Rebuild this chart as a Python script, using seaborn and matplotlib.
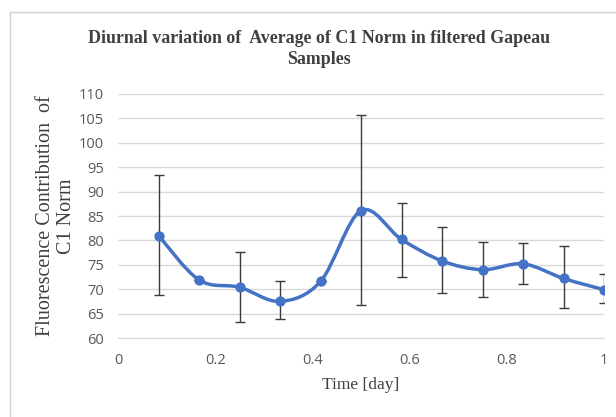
import numpy as np
import pandas as pd
import seaborn as sns
import matplotlib.pyplot as plt
from matplotlib.path import Path
from matplotlib.patches import PathPatch, Rectangle

# data
time_day = [1/12, 2/12, 3/12, 4/12, 5/12, 6/12, 7/12, 8/12, 9/12, 10/12, 11/12, 12/12]
c1_norm = [81.0, 71.9, 70.4, 67.5, 71.6, 86.1, 80.2, 75.8, 74.0, 75.2, 72.2, 69.9]
err_low = [68.8, 71.9, 63.3, 63.8, 71.6, 66.7, 72.6, 69.3, 68.5, 71.1, 66.1, 67.1]
err_high = [93.5, 71.9, 77.6, 71.7, 71.6, 105.7, 87.6, 82.7, 79.7, 79.4, 78.9, 73.2]
x_ticks = [0, 0.2, 0.4, 0.6, 0.8, 1.0]
x_tick_labels = ['0', '0.2', '0.4', '0.6', '0.8', '1']
y_ticks = list(range(60, 111, 5))

LINE_COLOR = '#4472C4'
TEXT_COLOR = '#595959'

df = pd.DataFrame({'time': time_day, 'c1': c1_norm, 'lo': err_low, 'hi': err_high})

sns.set_style('white')
fig = plt.figure(figsize=(6.16, 4.17), dpi=100)
ax = fig.add_axes([0.1916, 0.1894, 0.789, 0.5852])

# chart frame (light border like the spreadsheet chart area)
fig.patches.append(Rectangle((10/616, -0.1), 1.2, 1 - 12/417 + 0.1, transform=fig.transFigure,
                             fill=False, edgecolor='#d0d0d0', linewidth=1.0))

# error bars
yerr = np.array([df['c1'] - df['lo'], df['hi'] - df['c1']])
ax.errorbar(df['time'], df['c1'], yerr=yerr, fmt='none', ecolor='#3a3a3a',
            elinewidth=1.0, capsize=3.5, capthick=1.0, zorder=2)

# smoothed line (catmull-rom as cubic bezier segments)
pts = df[['time', 'c1']].to_numpy()
verts = [tuple(pts[0])]
codes = [Path.MOVETO]
n = len(pts)
for i in range(n - 1):
    p0 = pts[max(i - 1, 0)]
    p1 = pts[i]
    p2 = pts[i + 1]
    p3 = pts[min(i + 2, n - 1)]
    c1 = p1 + (p2 - p0) / 6
    c2 = p2 - (p3 - p1) / 6
    verts += [tuple(c1), tuple(c2), tuple(p2)]
    codes += [Path.CURVE4] * 3
ax.add_patch(PathPatch(Path(verts, codes), fill=False, edgecolor=LINE_COLOR,
                       linewidth=2.5, zorder=3, capstyle='round', joinstyle='round'))

sns.scatterplot(data=df, x='time', y='c1', color=LINE_COLOR, s=55, marker='o',
                edgecolor=LINE_COLOR, linewidth=0, zorder=4, ax=ax)

ax.set_xlim(0, 1)
ax.set_ylim(60, 110)
ax.set_xticks(x_ticks)
ax.set_xticklabels(x_tick_labels)
ax.set_yticks(y_ticks)
ax.yaxis.grid(True, color='#d9d9d9', linewidth=1.0)
ax.xaxis.grid(False)
for side in ['top', 'right', 'left']:
    ax.spines[side].set_visible(False)
ax.spines['bottom'].set_color('#d9d9d9')
ax.tick_params(axis='y', length=0, labelsize=10.5, labelcolor=TEXT_COLOR, pad=10)
ax.tick_params(axis='x', length=0, labelsize=10.5, labelcolor=TEXT_COLOR, pad=11)
for lab in ax.get_xticklabels() + ax.get_yticklabels():
    lab.set_family('Open Sans')

ax.set_xlabel('Time [day]', family='Liberation Serif', fontsize=12.6, color='#404040', labelpad=6)
ax.set_ylabel('Fluorescence Contribution  of\nC1 Norm', family='Liberation Serif', fontsize=14.5,
              color='#404040', labelpad=2, linespacing=1.15)

fig.text(0.518, 0.882, 'Diurnal variation of  Average of C1 Norm in filtered Gapeau\nSamples',
         ha='center', va='center', family='Liberation Serif', fontweight='bold',
         fontsize=12.9, color='#404040', linespacing=1.3)

plt.savefig('out.png', dpi=100)
